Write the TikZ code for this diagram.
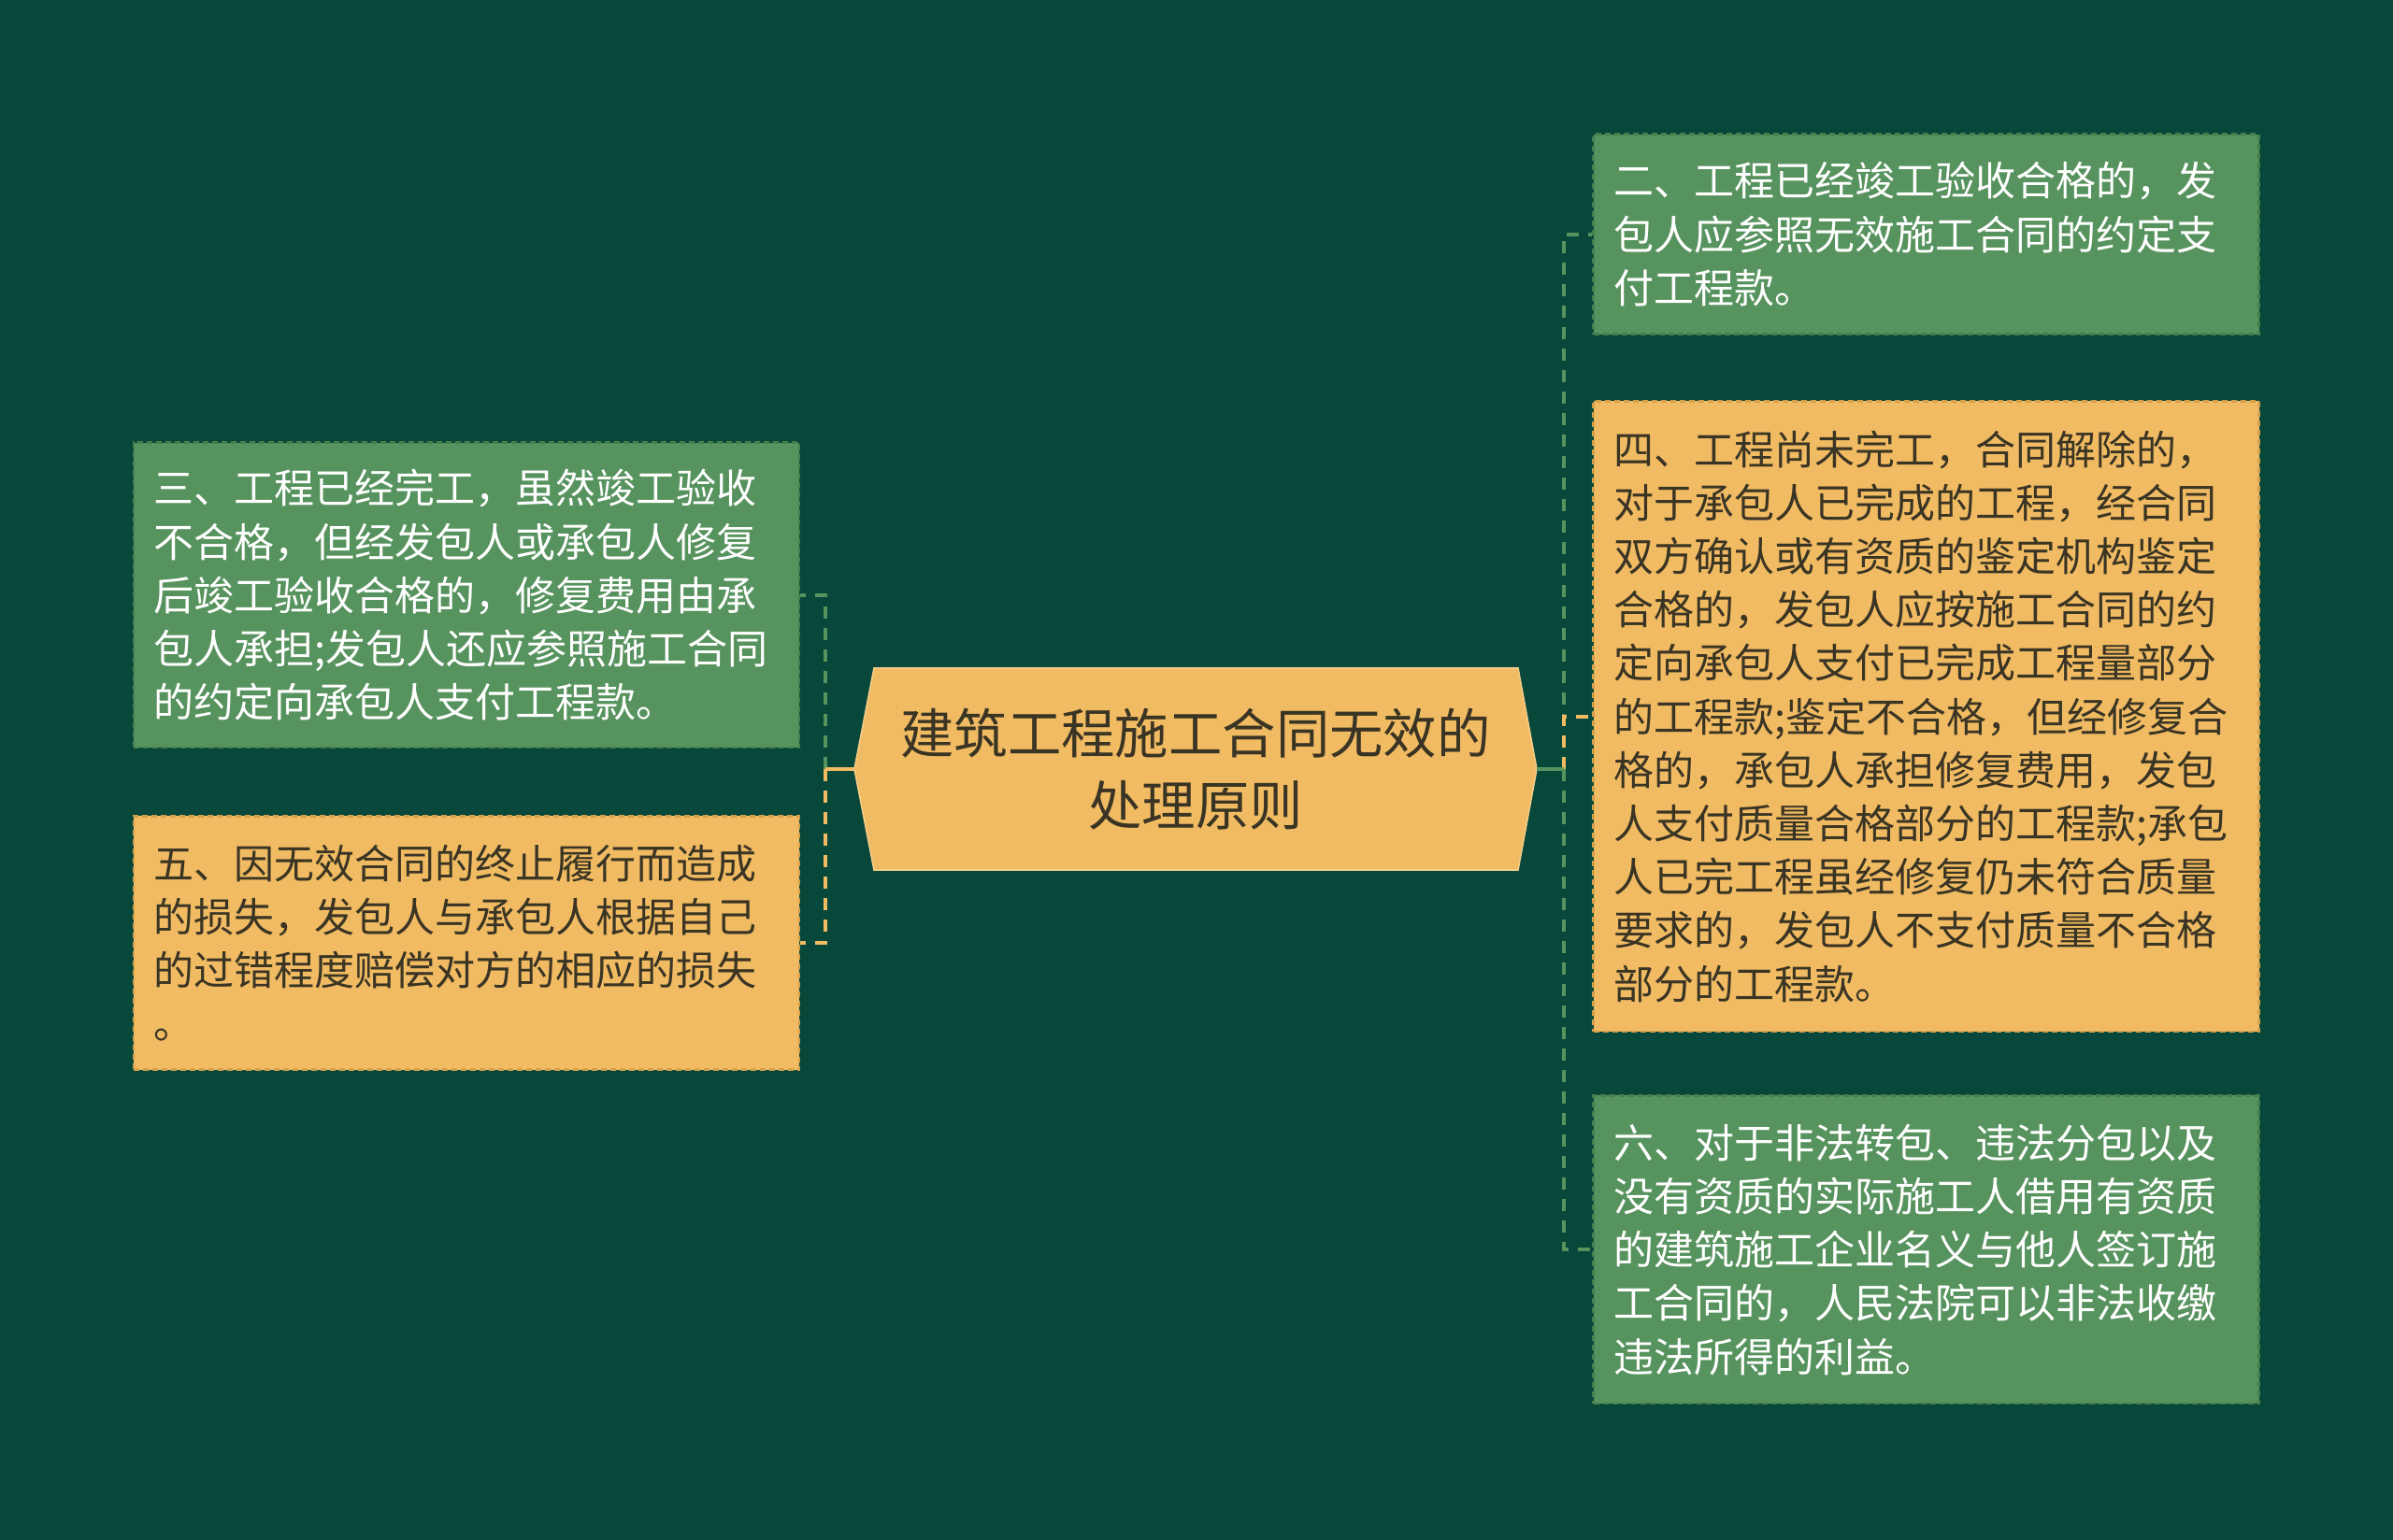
\documentclass[tikz,border=0pt]{standalone}
\usepackage{fontspec}
\setmainfont{Noto Sans CJK SC}
\definecolor{bg}{HTML}{08483A}
\definecolor{gbox}{HTML}{57935E}
\definecolor{gedge}{HTML}{467F4D}
\definecolor{obox}{HTML}{F0BB62}
\definecolor{oedge}{HTML}{D5A04C}
\definecolor{dtext}{HTML}{3A3424}
\tikzset{
  leaf/.style={minimum width=356pt, text width=334pt, inner xsep=11pt, inner ysep=0pt,
    align=left, line width=1.2pt, dash pattern=on 3pt off 2pt,
    font=\fontsize{21.5pt}{28.6pt}\selectfont},
  gleaf/.style={leaf, fill=gbox, draw=gedge, text=white},
  oleaf/.style={leaf, fill=obox, draw=oedge, text=dtext},
  conn/.style={line width=2pt, dash pattern=on 6.5pt off 5pt},
  gconn/.style={conn, draw=gbox},
  oconn/.style={conn, draw=obox},
  gstub/.style={line width=2pt, draw=gbox},
  ostub/.style={line width=2pt, draw=obox},
  hub/.style={minimum width=365pt, minimum height=108pt, inner sep=0pt, align=center,
    text=dtext, font=\fontsize{28.7pt}{38.4pt}\selectfont}
}
\begin{document}
\begin{tikzpicture}[x=1pt,y=-1pt]
\fill[bg] (0,0) rectangle (1280,824);
\useasboundingbox (0,0) rectangle (1280,824);
% central hexagon
\filldraw[fill=obox, draw=obox!75!white, line width=0.8pt]
  (467.5,357.5) -- (812,357.5) -- (822,411.5) -- (812,465.5) -- (467.5,465.5) -- (457,411.5) -- cycle;
\node[hub] (c) at (639.5,411.5) {建筑工程施工合同无效的\\处理原则};
% leaves right
\node[gleaf, minimum height=107pt] (b2) at (1030.25,125.3)
 {二、工程已经竣工验收合格的，发\\包人应参照无效施工合同的约定支\\付工程款。};
\node[oleaf, minimum height=337.2pt] (b4) at (1030.25,383.3)
 {四、工程尚未完工，合同解除的，\\对于承包人已完成的工程，经合同\\双方确认或有资质的鉴定机构鉴定\\合格的，发包人应按施工合同的约\\定向承包人支付已完成工程量部分\\的工程款;鉴定不合格，但经修复合\\格的，承包人承担修复费用，发包\\人支付质量合格部分的工程款;承包\\人已完工程虽经修复仍未符合质量\\要求的，发包人不支付质量不合格\\部分的工程款。};
\node[gleaf, minimum height=164.9pt] (b6) at (1030.25,668.6)
 {六、对于非法转包、违法分包以及\\没有资质的实际施工人借用有资质\\的建筑施工企业名义与他人签订施\\工合同的，人民法院可以非法收缴\\违法所得的利益。};
% leaves left
\node[gleaf, minimum height=163.3pt] (b3) at (249.4,318.4)
 {三、工程已经完工，虽然竣工验收\\不合格，但经发包人或承包人修复\\后竣工验收合格的，修复费用由承\\包人承担;发包人还应参照施工合同\\的约定向承包人支付工程款。};
\node[oleaf, minimum height=135.6pt] (b5) at (249.4,504.5)
 {五、因无效合同的终止履行而造成\\的损失，发包人与承包人根据自己\\的过错程度赔偿对方的相应的损失\\。};
% connectors
\coordinate (rj) at ([xshift=14.5pt]c.east);
\coordinate (lj) at ([xshift=-15.5pt]c.west);
\draw[gconn] (rj) |- (b2.west);
\draw[gconn] (rj) |- (b6.west);
\draw[oconn] (rj) |- (b4.west);
\draw[gstub] (c.east) -- (rj);
\draw[gconn] (lj) |- (b3.east);
\draw[oconn] (lj) |- (b5.east);
\draw[ostub] (c.west) -- (lj);
\end{tikzpicture}
\end{document}
